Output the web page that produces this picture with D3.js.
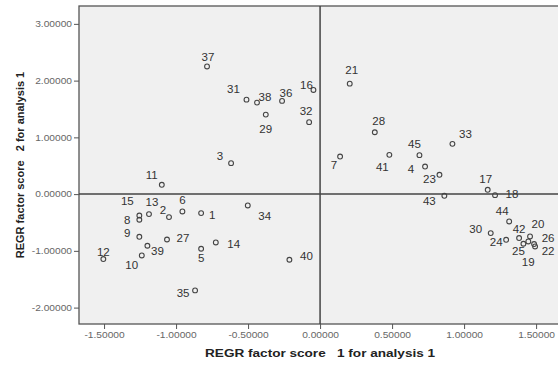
<!DOCTYPE html>
<html>
<head>
<meta charset="utf-8">
<script src="https://cdn.jsdelivr.net/npm/d3@7"></script>
<style>
  body { margin: 0; background: #fff; }
  text { font-family: "Liberation Sans", Arial, sans-serif; }
</style>
</head>
<body>
<svg id="chart" width="558" height="365"></svg>
<script>
// case numbers and their two factor scores
const caseIds = [1, 2, 3, 4, 5, 6, 7, 8, 9, 10, 11, 12, 13, 14, 15, 16, 17, 18, 19, 20, 21, 22, 23,
  24, 25, 26, 27, 28, 29, 30, 31, 32, 33, 34, 35, 36, 37, 38, 39, 40, 41, 42, 43, 44, 45];
const score1 = [-0.826, -1.049, -0.618, 0.729, -0.826, -0.956, 0.139, -1.255, -1.255, -1.238, -1.099,
  -1.505, -1.188, -0.724, -1.255, -0.046, 1.164, 1.215, 1.446, 1.458, 0.206, 1.493, 0.829, 1.292,
  1.412, 1.486, -1.063, 0.380, -0.377, 1.185, -0.511, -0.076, 0.919, -0.502, -0.868, -0.264, -0.785,
  -0.438, -1.199, -0.213, 0.481, 1.382, 0.863, 1.313, 0.690];
const score2 = [-0.335, -0.405, 0.546, 0.486, -0.963, -0.306, 0.662, -0.452, -0.752, -1.081, 0.164,
  -1.144, -0.352, -0.852, -0.377, 1.836, 0.076, -0.018, -0.834, -0.746, 1.947, -0.922, 0.340, -0.805,
  -0.875, -0.880, -0.800, 1.090, 1.401, -0.687, 1.665, 1.268, 0.886, -0.200, -1.697, 1.643, 2.250,
  1.613, -0.910, -1.157, 0.692, -0.774, -0.030, -0.482, 0.687];

const xTicks = [-1.5, -1.0, -0.5, 0, 0.5, 1.0, 1.5];
const yTicks = [-2, -1, 0, 1, 2, 3];
const xTitle = "REGR factor score   1 for analysis 1";
const yTitle = "REGR factor score   2 for analysis 1";

// where each case label sits relative to its marker (px)
const labelOffsets = [[11, 2], [-6, -7], [-11, -7], [-14, 3], [0, 10], [0, -11], [-6, 9], [-12, 1],
  [-12, -3], [-10, 10], [-10, -9], [0, -7], [3, -12], [18, 2], [-12, -14], [-7, -5], [-2, -10],
  [17, -1], [0, 21], [8, -12], [2, -13], [13, 5], [-10, 5], [-10, 3], [-5, 8], [14, -6], [16, -1],
  [4, -11], [0, 15], [-15, -4], [-13, -10], [-3, -11], [13, -10], [17, 11], [-12, 3], [4, -8],
  [1, -9], [8, -5], [10, 6], [17, -3], [-7, 12], [0, -9], [-15, 6], [-7, -10], [-5, -11]];

const W = 558, H = 365;
const margin = {top: 6, right: -2, bottom: 41, left: 79};

const svg = d3.select("#chart");

const x = d3.scaleLinear().domain([-1.674, 1.666]).range([margin.left, W - margin.right]);
const y = d3.scaleLinear().domain([-2.289, 3.315]).range([H - margin.bottom, margin.top]);

function stretch(sel, k) {
  sel.each(function() {
    const w = this.getComputedTextLength();
    d3.select(this).attr("textLength", w * k).attr("lengthAdjust", "spacingAndGlyphs");
  });
}

// plot background
svg.append("rect")
  .attr("x", margin.left).attr("y", margin.top)
  .attr("width", W - margin.right - margin.left)
  .attr("height", H - margin.bottom - margin.top)
  .attr("fill", "#f0f0f0")
  .attr("stroke", "#555").attr("stroke-width", 1.3);

// reference lines through zero
svg.append("line")
  .attr("x1", x(0)).attr("x2", x(0))
  .attr("y1", margin.top).attr("y2", H - margin.bottom)
  .attr("stroke", "#444").attr("stroke-width", 1.5);
svg.append("line")
  .attr("x1", margin.left).attr("x2", W - margin.right)
  .attr("y1", y(0)).attr("y2", y(0))
  .attr("stroke", "#444").attr("stroke-width", 1.5);

// axes
const xAxis = svg.append("g")
  .attr("transform", "translate(0," + (H - margin.bottom) + ")")
  .call(d3.axisBottom(x).tickValues(xTicks).tickSize(5).tickPadding(3)
    .tickFormat(d => d.toFixed(5)));
const yAxis = svg.append("g")
  .attr("transform", "translate(" + margin.left + ",0)")
  .call(d3.axisLeft(y).tickValues(yTicks).tickSize(5).tickPadding(2)
    .tickFormat(d => d.toFixed(5)));

[xAxis, yAxis].forEach(g => {
  g.select(".domain").remove();
  g.selectAll(".tick line").attr("stroke", "#555");
  g.selectAll(".tick text")
    .attr("fill", "#666")
    .style("font-size", "8.5px")
    .style("font-family", "'Liberation Sans', Arial, sans-serif");
  stretch(g.selectAll(".tick text"), 1.2);
});

// markers
const pts = caseIds.map((id, i) => ({id: id, s1: score1[i], s2: score2[i], off: labelOffsets[i]}));

svg.append("g").selectAll("circle")
  .data(pts).enter().append("circle")
  .attr("cx", d => x(d.s1))
  .attr("cy", d => y(d.s2))
  .attr("r", 2.4)
  .attr("fill", "none")
  .attr("stroke", "#444")
  .attr("stroke-width", 1.1);

const labels = svg.append("g").selectAll("text")
  .data(pts).enter().append("text")
  .attr("x", d => x(d.s1) + d.off[0])
  .attr("y", d => y(d.s2) + d.off[1])
  .attr("dy", "0.35em")
  .attr("text-anchor", "middle")
  .attr("fill", "#333")
  .style("font-size", "10.5px")
  .text(d => d.id);
stretch(labels, 1.1);

// axis titles
const xt = svg.append("text")
  .attr("x", x(0))
  .attr("y", 357)
  .attr("text-anchor", "middle")
  .attr("fill", "#222")
  .style("font-size", "11px")
  .style("font-weight", "bold")
  .style("white-space", "pre")
  .text(xTitle);
xt.attr("textLength", 230).attr("lengthAdjust", "spacingAndGlyphs");

svg.append("text")
  .attr("transform", "translate(24," + ((margin.top + H - margin.bottom) / 2) + ") rotate(-90)")
  .attr("text-anchor", "middle")
  .attr("fill", "#222")
  .style("font-size", "11px")
  .style("font-weight", "bold")
  .style("white-space", "pre")
  .text(yTitle);
</script>
</body>
</html>
